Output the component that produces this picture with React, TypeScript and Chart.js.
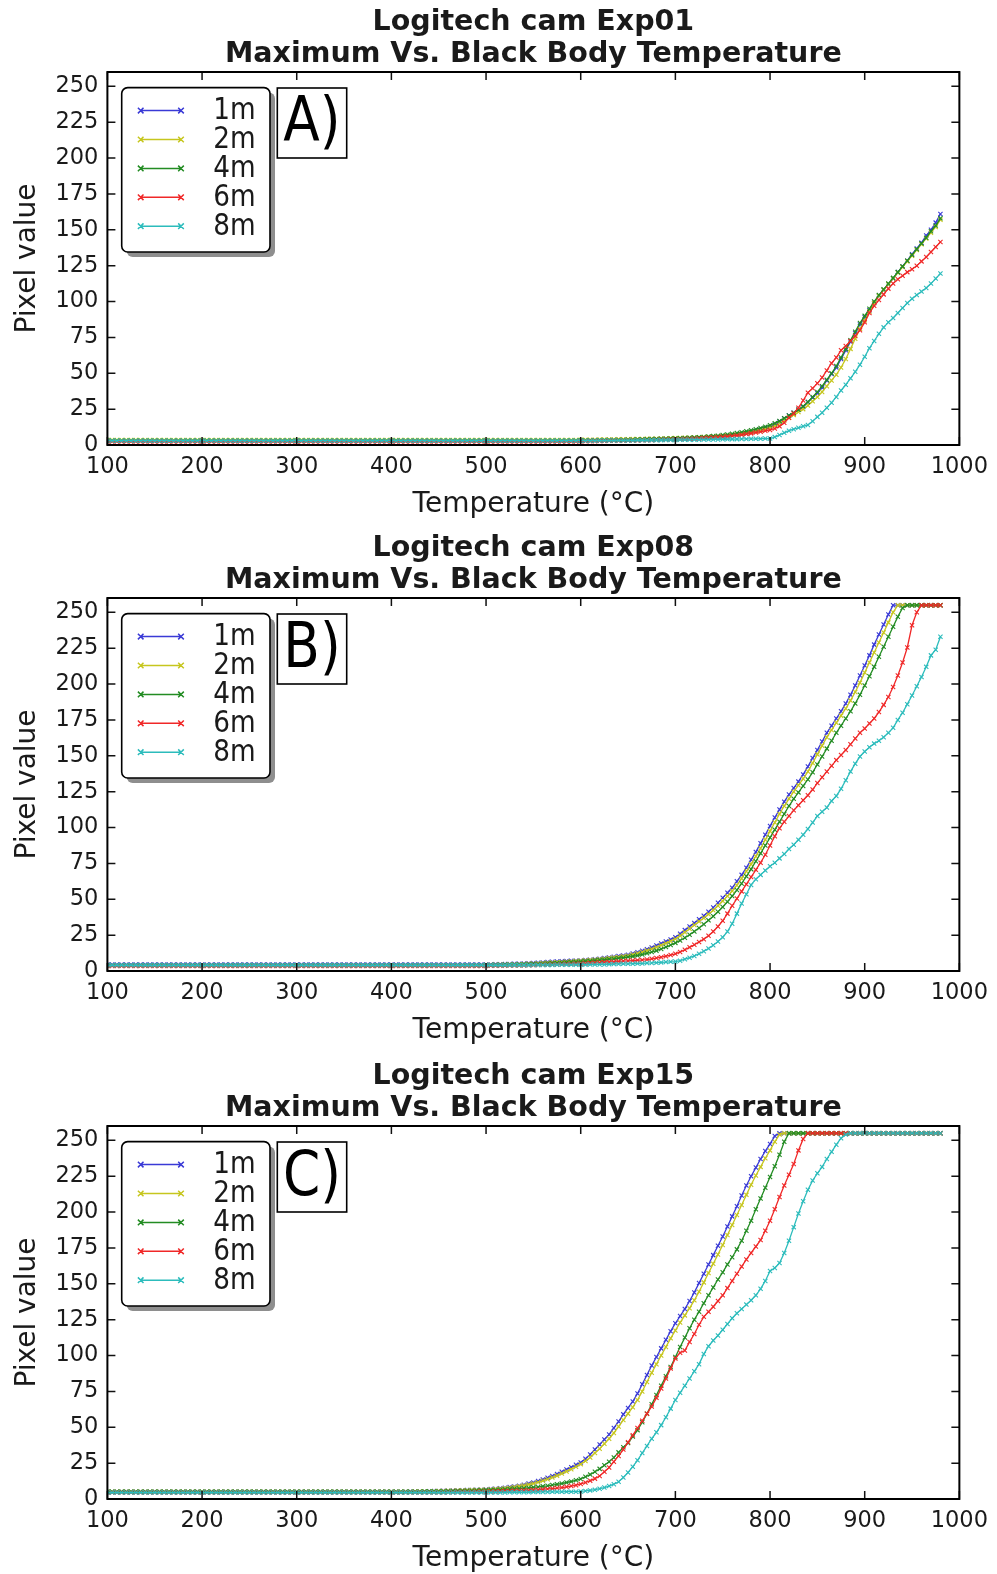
import React, { useEffect, useRef } from 'react';
import { Chart, registerables } from 'chart.js';

Chart.register(...registerables);

// ---------- data ----------
const TEMPS = [
  100,105,110,115,120,125,130,135,140,145,
  150,155,160,165,170,175,180,185,190,195,
  200,205,210,215,220,225,230,235,240,245,
  250,255,260,265,270,275,280,285,290,295,
  300,305,310,315,320,325,330,335,340,345,
  350,355,360,365,370,375,380,385,390,395,
  400,405,410,415,420,425,430,435,440,445,
  450,455,460,465,470,475,480,485,490,495,
  500,505,510,515,520,525,530,535,540,545,
  550,555,560,565,570,575,580,585,590,595,
  600,605,610,615,620,625,630,635,640,645,
  650,655,660,665,670,675,680,685,690,695,
  700,705,710,715,720,725,730,735,740,745,
  750,755,760,765,770,775,780,785,790,795,
  800,805,810,815,820,825,830,835,840,845,
  850,855,860,865,870,875,880,885,890,895,
  900,905,910,915,920,925,930,935,940,945,
  950,955,960,965,970,975,980,
];

const DISTANCES = ['1m', '2m', '4m', '6m', '8m'];
const X_TICKS = [100, 200, 300, 400, 500, 600, 700, 800, 900, 1000];
const Y_TICKS = [0, 25, 50, 75, 100, 125, 150, 175, 200, 225, 250];

const TITLE_A = ['Logitech cam Exp01', 'Maximum Vs. Black Body Temperature'];
const TITLE_B = ['Logitech cam Exp08', 'Maximum Vs. Black Body Temperature'];
const TITLE_C = ['Logitech cam Exp15', 'Maximum Vs. Black Body Temperature'];

// Panel A (Exp01)
const A_1M = [
  3,3,3,3,3,3,3,3,3,3, 3,3,3,3,3,3,3,3,3,3, 3,3,3,3,3,3,3,3,3,3, 3,3,3,3,3,3,3,3,3,3, 3,3,3,3,3,3,3,3,3,3,
  3,3,3,3,3,3,3,3,3,3, 3,3,3,3,3,3,3,3,3,3, 3,3,3,3,3,3,3,3,3,3, 3,3,3,3,3,3,3,3,3,3, 3,3,3,3,3,3,3,3,3,3,
  3.2,3.2,3.3,3.3,3.4,3.4,3.5,3.5,3.6,3.6,
  3.7,3.7,3.8,3.8,3.9,3.9,4,4,4.1,4.2,
  4.3,4.4,4.5,4.6,4.7,4.8,5,5.2,5.4,5.6,
  5.8,6.1,6.5,7,7.5,8,8.8,9.7,10.6,11.6,
  12.6,14.3,16.3,18.5,20.5,22.5,24.5,26.5,30,33,
  36,40,45,49.5,54,60,66,72,78,84,
  89,94,99,104,108,112,116,120.5,124.5,128.5,
  133,137,141,146,150,155,161,
];
const A_2M = [
  3.5,3.5,3.5,3.5,3.5,3.5,3.5,3.5,3.5,3.5, 3.5,3.5,3.5,3.5,3.5,3.5,3.5,3.5,3.5,3.5,
  3.5,3.5,3.5,3.5,3.5,3.5,3.5,3.5,3.5,3.5, 3.5,3.5,3.5,3.5,3.5,3.5,3.5,3.5,3.5,3.5,
  3.5,3.5,3.5,3.5,3.5,3.5,3.5,3.5,3.5,3.5, 3.5,3.5,3.5,3.5,3.5,3.5,3.5,3.5,3.5,3.5,
  3.5,3.5,3.5,3.5,3.5,3.5,3.5,3.5,3.5,3.5, 3.5,3.5,3.5,3.5,3.5,3.5,3.5,3.5,3.5,3.5,
  3.5,3.5,3.5,3.5,3.5,3.5,3.5,3.5,3.5,3.5, 3.5,3.5,3.5,3.5,3.5,3.5,3.5,3.5,3.5,3.5,
  3.6,3.6,3.7,3.7,3.8,3.8,3.9,3.9,4,4,
  4,4.1,4.1,4.2,4.3,4.3,4.4,4.5,4.6,4.7,
  4.8,4.9,5,5.1,5.2,5.4,5.5,5.7,5.9,6.1,
  6.3,6.6,6.9,7.3,7.7,8.2,8.8,9.5,10.3,11.2,
  12.2,13.4,15,17,19,21,23,25,27.5,30.5,
  33.5,37,41,45,49,54,60,67,74,81,
  87,93,99,104,108,112,116,120,124,128,
  132,136,140,144,148,152,157,
];
const A_4M = [
  3,3,3,3,3,3,3,3,3,3, 3,3,3,3,3,3,3,3,3,3, 3,3,3,3,3,3,3,3,3,3, 3,3,3,3,3,3,3,3,3,3, 3,3,3,3,3,3,3,3,3,3,
  3,3,3,3,3,3,3,3,3,3, 3,3,3,3,3,3,3,3,3,3, 3,3,3,3,3,3,3,3,3,3, 3,3,3,3,3,3,3,3,3,3, 3,3,3,3,3,3,3,3,3,3,
  3.1,3.1,3.2,3.2,3.3,3.3,3.4,3.4,3.5,3.5,
  3.6,3.7,3.8,3.9,4,4.1,4.2,4.3,4.4,4.5,
  4.6,4.7,4.8,5,5.2,5.4,5.6,5.9,6.2,6.5,
  6.9,7.3,7.8,8.3,8.9,9.5,10.2,11,11.9,12.8,
  13.8,15.2,16.8,18.6,20.5,22.5,24.5,27,30,33.5,
  37,41,45.5,50,55,61,67,73,79,85,
  90,95,100,104.5,108.5,112.5,116.5,120.5,124.5,128.5,
  132.5,136.5,140.5,144.5,149,153,158,
];
const A_6M = [
  2.5,2.5,2.5,2.5,2.5,2.5,2.5,2.5,2.5,2.5, 2.5,2.5,2.5,2.5,2.5,2.5,2.5,2.5,2.5,2.5,
  2.5,2.5,2.5,2.5,2.5,2.5,2.5,2.5,2.5,2.5, 2.5,2.5,2.5,2.5,2.5,2.5,2.5,2.5,2.5,2.5,
  2.5,2.5,2.5,2.5,2.5,2.5,2.5,2.5,2.5,2.5, 2.5,2.5,2.5,2.5,2.5,2.5,2.5,2.5,2.5,2.5,
  2.5,2.5,2.5,2.5,2.5,2.5,2.5,2.5,2.5,2.5, 2.5,2.5,2.5,2.5,2.5,2.5,2.5,2.5,2.5,2.5,
  2.5,2.5,2.5,2.5,2.5,2.5,2.5,2.5,2.5,2.5, 2.5,2.5,2.5,2.5,2.5,2.5,2.5,2.5,2.5,2.5,
  2.6,2.6,2.7,2.7,2.8,2.8,2.9,2.9,3,3,
  3.1,3.1,3.2,3.3,3.3,3.4,3.5,3.6,3.7,3.8,
  3.9,4,4.1,4.2,4.4,4.6,4.8,5,5.2,5.4,
  5.7,6,6.3,6.7,7.1,7.6,8.1,8.7,9.3,9.9,
  10.5,11.5,13,15.5,19,22,26,31,36.5,39.5,
  43,47,52,57,61,66,69,72.5,76,80,
  85.5,92,97,101,105,109,112.5,115.5,118,120.5,
  122.5,125,128,131,134.5,138,141.5,
];
const A_8M = [
  3,3,3,3,3,3,3,3,3,3, 3,3,3,3,3,3,3,3,3,3, 3,3,3,3,3,3,3,3,3,3, 3,3,3,3,3,3,3,3,3,3, 3,3,3,3,3,3,3,3,3,3,
  3,3,3,3,3,3,3,3,3,3, 3,3,3,3,3,3,3,3,3,3, 3,3,3,3,3,3,3,3,3,3, 3,3,3,3,3,3,3,3,3,3, 3,3,3,3,3,3,3,3,3,3,
  3,3,3,3,3.1,3.1,3.1,3.1,3.2,3.2,
  3.2,3.2,3.3,3.3,3.3,3.4,3.4,3.4,3.5,3.5,
  3.5,3.6,3.6,3.6,3.7,3.7,3.8,3.8,3.9,3.9,
  4,4,4.1,4.1,4.2,4.2,4.3,4.3,4.4,4.5,
  4.5,5.5,7,8.5,10,11,12,13,14,16.5,
  19.6,22.5,26,29.5,33.5,38,42,46.5,51,56,
  61.5,67.5,72.5,77.5,82,85.5,88.5,92,95.5,99,
  102,104.5,107,109.5,112.5,116,119.5,
];

// Panel B (Exp08)
const B_1M = [
  4.5,4.5,4.5,4.5,4.5,4.5,4.5,4.5,4.5,4.5, 4.5,4.5,4.5,4.5,4.5,4.5,4.5,4.5,4.5,4.5,
  4.5,4.5,4.5,4.5,4.5,4.5,4.5,4.5,4.5,4.5, 4.5,4.5,4.5,4.5,4.5,4.5,4.5,4.5,4.5,4.5,
  4.5,4.5,4.5,4.5,4.5,4.5,4.5,4.5,4.5,4.5, 4.5,4.5,4.5,4.5,4.5,4.5,4.5,4.5,4.5,4.5,
  4.5,4.5,4.5,4.5,4.5,4.5,4.5,4.5,4.5,4.5, 4.5,4.5,4.5,4.5,4.5,4.5,4.5,4.5,4.5,4.5,
  4.6,4.6,4.7,4.7,4.8,4.9,5,5.1,5.2,5.4,
  5.6,5.8,6,6.2,6.4,6.6,6.8,7,7.1,7.2,
  7.3,7.6,7.9,8.2,8.6,9,9.4,9.9,10.4,10.8,
  11.3,12.2,13.1,14.1,15.2,16.4,17.8,19.2,20.6,22,
  23.5,26,28.5,31,33.5,36,38.5,41.3,44.2,47.5,
  51,54.5,58,62.5,67,72,77.5,83,89,95,
  101,107,112.5,118,123,127.5,132,137,142.5,148.5,
  154,160,166,171,176,181,186.5,192.5,199,206,
  213,220,227.5,234.5,241.5,248.5,255,255,255,255,
  255,255,255,255,255,255,255,
];
const B_2M = [
  4,4,4,4,4,4,4,4,4,4, 4,4,4,4,4,4,4,4,4,4, 4,4,4,4,4,4,4,4,4,4, 4,4,4,4,4,4,4,4,4,4,
  4,4,4,4,4,4,4,4,4,4, 4,4,4,4,4,4,4,4,4,4, 4,4,4,4,4,4,4,4,4,4, 4,4,4,4,4,4,4,4,4,4,
  4.2,4.2,4.3,4.3,4.4,4.5,4.6,4.7,4.8,5,
  5.1,5.3,5.5,5.7,5.9,6.1,6.3,6.5,6.7,6.9,
  7.1,7.3,7.6,7.9,8.2,8.6,9,9.4,9.8,10.2,
  10.7,11.5,12.3,13.2,14.2,15.3,16.5,17.9,19.3,20.8,
  22.3,24.5,27,29.5,32,34.5,37,39.6,42.4,45.5,
  48.8,52.2,55.8,59.8,64.5,69.5,74.5,80,85.5,91.5,
  97.5,103.5,109.5,115,120,125,129.5,134,139,145,
  151,157,163,168,173,178,183,188.5,194.5,201,
  208,215,222,229,236,243,250,255,255,255,
  255,255,255,255,255,255,255,
];
const B_4M = [
  4,4,4,4,4,4,4,4,4,4, 4,4,4,4,4,4,4,4,4,4, 4,4,4,4,4,4,4,4,4,4, 4,4,4,4,4,4,4,4,4,4,
  4,4,4,4,4,4,4,4,4,4, 4,4,4,4,4,4,4,4,4,4, 4,4,4,4,4,4,4,4,4,4, 4,4,4,4,4,4,4,4,4,4,
  4.1,4.1,4.2,4.2,4.3,4.3,4.4,4.5,4.6,4.7,
  4.8,4.9,5,5.2,5.4,5.6,5.8,6,6.2,6.4,
  6.6,6.8,7,7.3,7.6,7.9,8.2,8.5,8.9,9.3,
  9.7,10.2,10.8,11.5,12.3,13.2,14.2,15.4,16.7,18.1,
  19.6,21.3,23.2,25.3,27.5,30,32.6,35.3,38.2,41.3,
  44.6,48.3,52.2,56.4,61,66,71,76.5,82,87.5,
  93,98.5,104,109.5,115,120,124.5,129,133.5,138.5,
  144,149.5,155,160.5,166,171,176,181,186.5,192.5,
  199,205.5,212,219,226,233,240,247,253,255,
  255,255,255,255,255,255,255,
];
const B_6M = [
  3.5,3.5,3.5,3.5,3.5,3.5,3.5,3.5,3.5,3.5, 3.5,3.5,3.5,3.5,3.5,3.5,3.5,3.5,3.5,3.5,
  3.5,3.5,3.5,3.5,3.5,3.5,3.5,3.5,3.5,3.5, 3.5,3.5,3.5,3.5,3.5,3.5,3.5,3.5,3.5,3.5,
  3.5,3.5,3.5,3.5,3.5,3.5,3.5,3.5,3.5,3.5, 3.5,3.5,3.5,3.5,3.5,3.5,3.5,3.5,3.5,3.5,
  3.5,3.5,3.5,3.5,3.5,3.5,3.5,3.5,3.5,3.5, 3.5,3.5,3.5,3.5,3.5,3.5,3.5,3.5,3.5,3.5,
  3.5,3.6,3.6,3.7,3.7,3.8,3.8,3.9,3.9,4,
  4.1,4.2,4.3,4.4,4.5,4.6,4.7,4.8,4.9,5,
  5.1,5.3,5.5,5.7,5.9,6.1,6.3,6.5,6.7,6.9,
  7.1,7.3,7.5,7.7,8,8.5,9,9.6,10.3,11.1,
  12,13.3,14.8,16.5,18.3,20.2,22.2,24.5,27.5,31,
  35,40,45.5,50.5,55.5,60.5,65.5,70.5,75.5,81,
  87.5,94,99.5,104,108,112,115.5,119,122.5,126.5,
  131,135,139,143,147,150.5,154,158,162,166,
  169,172.5,176,180.5,185.5,191,198,206,215,225.5,
  241,250,255,255,255,255,255,
];
const B_8M = [
  4,4,4,4,4,4,4,4,4,4, 4,4,4,4,4,4,4,4,4,4, 4,4,4,4,4,4,4,4,4,4, 4,4,4,4,4,4,4,4,4,4,
  4,4,4,4,4,4,4,4,4,4, 4,4,4,4,4,4,4,4,4,4, 4,4,4,4,4,4,4,4,4,4, 4,4,4,4,4,4,4,4,4,4,
  4,4,4,4,4,4.1,4.1,4.1,4.1,4.1,
  4.2,4.2,4.2,4.2,4.2,4.3,4.3,4.3,4.3,4.3,
  4.4,4.4,4.5,4.5,4.6,4.6,4.7,4.8,4.9,5,
  5,5.1,5.2,5.3,5.5,5.6,5.8,6,6.2,6.4,
  6.6,7.2,8.2,9.3,10.5,12,13.8,15.7,18,20.6,
  23.5,27.5,33,40,47,53.5,60,64,67,70,
  73,75.5,78.5,81.5,85,88,91.5,95,99,103.5,
  108,111,114,118.5,122,127,133,139,144.5,149.5,
  153,156,158.5,160.5,163,166,169.5,175,180,186,
  192,198.5,205,212,220,224,233,
];

// Panel C (Exp15)
const C_1M = [
  5,5,5,5,5,5,5,5,5,5, 5,5,5,5,5,5,5,5,5,5, 5,5,5,5,5,5,5,5,5,5,
  5,5,5,5,5,5,5,5,5,5, 5,5,5,5,5,5,5,5,5,5, 5,5,5,5,5,5,5,5,5,5,
  5,5,5.1,5.1,5.2,5.2,5.3,5.3,5.4,5.5,
  5.6,5.7,5.8,5.9,6,6.1,6.2,6.3,6.4,6.5,
  6.7,6.9,7.2,7.5,7.9,8.3,8.7,9.3,10,10.8,
  11.5,12.5,13.6,14.8,16.1,17.5,19,20.6,22.2,23.8,
  25.5,28,31,34.5,38,41.5,45,49.5,54,59,
  63.5,68,73.5,80,86.5,93,99,105,111,117,
  122.5,127.5,132.5,138,144,150.5,157,163.5,170,176.5,
  183,190,197,204,211.5,218.5,225,231,237,242.5,
  247.5,253,255,255,255,255,255,255,255,255,
  255,255,255,255,255,255,255,255,255,255,
  255,255,255,255,255,255,255,255,255,255,
  255,255,255,255,255,255,255,
];
const C_2M = [
  5,5,5,5,5,5,5,5,5,5, 5,5,5,5,5,5,5,5,5,5, 5,5,5,5,5,5,5,5,5,5,
  5,5,5,5,5,5,5,5,5,5, 5,5,5,5,5,5,5,5,5,5, 5,5,5,5,5,5,5,5,5,5,
  5,5,5,5.1,5.1,5.2,5.2,5.3,5.3,5.4,
  5.5,5.6,5.7,5.8,5.9,6,6.1,6.2,6.3,6.4,
  6.5,6.7,6.9,7.2,7.5,7.9,8.3,8.8,9.4,10.1,
  10.8,11.7,12.7,13.8,15,16.3,17.7,19.2,20.8,22.5,
  24.3,26.5,29,32,35,38.5,42,46,50.5,55,
  59.5,64,69,75,81.5,88,94,100,106,112,
  117.5,123,128,133,138.5,144.5,151,157.5,164,170.5,
  177,184,191,198,205,212,219,225.5,231.5,237.5,
  243,249,254,255,255,255,255,255,255,255,
  255,255,255,255,255,255,255,255,255,255,
  255,255,255,255,255,255,255,255,255,255,
  255,255,255,255,255,255,255,
];
const C_4M = [
  5,5,5,5,5,5,5,5,5,5, 5,5,5,5,5,5,5,5,5,5, 5,5,5,5,5,5,5,5,5,5,
  5,5,5,5,5,5,5,5,5,5, 5,5,5,5,5,5,5,5,5,5, 5,5,5,5,5,5,5,5,5,5,
  5,5,5,5,5.1,5.1,5.1,5.2,5.2,5.2,
  5.3,5.3,5.4,5.4,5.5,5.6,5.7,5.8,5.9,6,
  6.1,6.2,6.3,6.5,6.7,6.9,7.1,7.3,7.5,7.8,
  8.1,8.4,8.8,9.2,9.7,10.2,10.8,11.5,12.2,13,
  14,15.5,17,19,21,23.5,26,29,32.5,36,
  39,43.5,48,53.5,59.5,66,72.5,79,85.5,92,
  99,106,112.5,119,125,130.5,136.5,142,147.5,153,
  158,163.5,168.5,174,180,187,194,202,209.5,217,
  224.5,232,240,249,255,255,255,255,255,255,
  255,255,255,255,255,255,255,255,255,255,
  255,255,255,255,255,255,255,255,255,255,
  255,255,255,255,255,255,255,
];
const C_6M = [
  4.5,4.5,4.5,4.5,4.5,4.5,4.5,4.5,4.5,4.5, 4.5,4.5,4.5,4.5,4.5,4.5,4.5,4.5,4.5,4.5,
  4.5,4.5,4.5,4.5,4.5,4.5,4.5,4.5,4.5,4.5, 4.5,4.5,4.5,4.5,4.5,4.5,4.5,4.5,4.5,4.5,
  4.5,4.5,4.5,4.5,4.5,4.5,4.5,4.5,4.5,4.5, 4.5,4.5,4.5,4.5,4.5,4.5,4.5,4.5,4.5,4.5,
  4.5,4.5,4.5,4.5,4.5,4.5,4.5,4.5,4.5,4.5,
  4.6,4.6,4.7,4.7,4.8,4.8,4.9,4.9,5,5,
  5.1,5.2,5.3,5.4,5.5,5.6,5.7,5.8,5.9,6,
  6.2,6.4,6.7,7,7.3,7.6,8,8.5,9,9.6,
  10.5,11.5,12.8,14.2,16,19,22,26,30,34.5,
  39.5,44.5,49.5,54.5,59.5,64.5,70.5,77,84,91,
  98,102,103.5,109.5,115,121.5,127,130.5,134,138,
  142,147,152,157,162,167,171.5,176,180.5,187,
  194,202,210.5,218.5,226,233.5,243,251,255,255,
  255,255,255,255,255,255,255,255,255,255,
  255,255,255,255,255,255,255,255,255,255,
  255,255,255,255,255,255,255,
];
const C_8M = [
  4.5,4.5,4.5,4.5,4.5,4.5,4.5,4.5,4.5,4.5, 4.5,4.5,4.5,4.5,4.5,4.5,4.5,4.5,4.5,4.5,
  4.5,4.5,4.5,4.5,4.5,4.5,4.5,4.5,4.5,4.5, 4.5,4.5,4.5,4.5,4.5,4.5,4.5,4.5,4.5,4.5,
  4.5,4.5,4.5,4.5,4.5,4.5,4.5,4.5,4.5,4.5, 4.5,4.5,4.5,4.5,4.5,4.5,4.5,4.5,4.5,4.5,
  4.5,4.5,4.5,4.5,4.5,4.5,4.5,4.5,4.5,4.5,
  4.5,4.5,4.5,4.5,4.5,4.5,4.5,4.5,4.5,4.5,
  4.6,4.6,4.6,4.6,4.6,4.7,4.7,4.7,4.7,4.7,
  4.8,4.8,4.9,4.9,5,5,5,5.1,5.1,5.1,
  5.3,5.6,6,6.5,7.2,8,9,10.3,12,15,
  18.5,22.5,27,32,37,42,46.5,51.5,57,63,
  69,74,79,84,89,94,101,106.5,110.5,114,
  118,122,126,129.5,132.5,135.5,138.5,142,146.5,152,
  159,161,164.5,171.5,180,189.5,199,207.5,215.5,222,
  227,231.5,237,242,247,251.5,254,255,255,255,
  255,255,255,255,255,255,255,255,255,255,
  255,255,255,255,255,255,255,
];

// ---------- styling ----------
const COLORS = ['#3a3ad6', '#c6c61e', '#238c23', '#f02828', '#2cbcbc'];
const FONT = 'DejaVu Sans';
const TEXT = '#1a1a1a';

function roundRectPath(ctx: CanvasRenderingContext2D, x: number, y: number, w: number, h: number, r: number) {
  ctx.beginPath();
  ctx.moveTo(x + r, y);
  ctx.lineTo(x + w - r, y);
  ctx.arcTo(x + w, y, x + w, y + r, r);
  ctx.lineTo(x + w, y + h - r);
  ctx.arcTo(x + w, y + h, x + w - r, y + h, r);
  ctx.lineTo(x + r, y + h);
  ctx.arcTo(x, y + h, x, y + h - r, r);
  ctx.lineTo(x, y + r);
  ctx.arcTo(x, y, x + r, y, r);
  ctx.closePath();
}

function drawX(ctx: CanvasRenderingContext2D, cx: number, cy: number, r: number) {
  ctx.moveTo(cx - r, cy - r);
  ctx.lineTo(cx + r, cy + r);
  ctx.moveTo(cx - r, cy + r);
  ctx.lineTo(cx + r, cy - r);
}

const framePlugin = {
  id: 'mplFrame',
  afterDraw(chart: any, _args: any, opts: any) {
    const { ctx, chartArea: ca, scales } = chart;
    const xs = scales.x;
    const ys = scales.y;
    ctx.save();
    // inside ticks
    ctx.strokeStyle = '#111';
    ctx.lineWidth = 1.5;
    ctx.beginPath();
    X_TICKS.forEach((v) => {
      const px = xs.getPixelForValue(v);
      ctx.moveTo(px, ca.bottom);
      ctx.lineTo(px, ca.bottom - 8);
      ctx.moveTo(px, ca.top);
      ctx.lineTo(px, ca.top + 8);
    });
    Y_TICKS.forEach((v) => {
      const py = ys.getPixelForValue(v);
      ctx.moveTo(ca.left, py);
      ctx.lineTo(ca.left + 8, py);
      ctx.moveTo(ca.right, py);
      ctx.lineTo(ca.right - 8, py);
    });
    ctx.stroke();
    // frame
    ctx.lineWidth = 2;
    ctx.strokeStyle = '#000';
    ctx.strokeRect(ca.left, ca.top, ca.right - ca.left, ca.bottom - ca.top);

    // legend box
    const lx = ca.left + 14.3;
    const ly = ca.top + 15.6;
    const lw = 148.3;
    const lh = 164.4;
    ctx.fillStyle = '#8e8e8e';
    roundRectPath(ctx, lx + 5, ly + 5, lw, lh, 6);
    ctx.fill();
    ctx.fillStyle = '#ffffff';
    roundRectPath(ctx, lx, ly, lw, lh, 6);
    ctx.fill();
    ctx.lineWidth = 1.6;
    ctx.strokeStyle = '#000';
    ctx.stroke();
    DISTANCES.forEach((d, i) => {
      const ry = ly + 23 + 28.9 * i;
      ctx.strokeStyle = COLORS[i];
      ctx.lineWidth = 1.5;
      ctx.beginPath();
      ctx.moveTo(lx + 19, ry);
      ctx.lineTo(lx + 59.3, ry);
      drawX(ctx, lx + 19, ry, 2.8);
      drawX(ctx, lx + 59.3, ry, 2.8);
      ctx.stroke();
      ctx.save();
      ctx.translate(lx + 91.5, ry + 1);
      ctx.scale(0.94, 1.06);
      ctx.fillStyle = TEXT;
      ctx.font = `28px "${FONT}"`;
      ctx.textAlign = 'left';
      ctx.textBaseline = 'middle';
      ctx.fillText(d, 0, 0);
      ctx.restore();
    });

    // panel tag
    const tx = ca.left + 169.9;
    const ty = ca.top + 16;
    const tw = 69.4;
    const th = 70;
    ctx.fillStyle = '#fff';
    ctx.fillRect(tx, ty, tw, th);
    ctx.lineWidth = 1.6;
    ctx.strokeStyle = '#000';
    ctx.strokeRect(tx, ty, tw, th);
    ctx.translate(tx + tw / 2, ty + th / 2 + 2);
    ctx.scale(0.86, 1);
    ctx.fillStyle = '#000';
    ctx.font = `62px "${FONT}"`;
    ctx.textAlign = 'center';
    ctx.textBaseline = 'middle';
    ctx.fillText(opts.tag, 0, 0);
    ctx.restore();
  },
};

type PanelProps = {
  top: number;
  height: number;
  title: string[];
  tag: string;
  series: number[][];
};

function Panel({ top, height, title, tag, series }: PanelProps) {
  const ref = useRef<HTMLCanvasElement | null>(null);
  useEffect(() => {
    if (!ref.current) return;
    const xScaleH = 77;
    const padBottom = height - xScaleH - 445;
    const chart = new Chart(ref.current, {
      type: 'line',
      data: {
        datasets: series.map((vals, i) => ({
          label: DISTANCES[i],
          data: TEMPS.map((t, k) => ({ x: t, y: vals[k] })),
          borderColor: COLORS[i],
          backgroundColor: COLORS[i],
          borderWidth: 1.3,
          pointStyle: 'crossRot',
          pointRadius: 3,
          pointBorderWidth: 1.1,
          pointBorderColor: COLORS[i],
          fill: false,
          tension: 0,
          order: 5 - i,
        })),
      },
      options: {
        animation: false,
        responsive: false,
        devicePixelRatio: 1,
        layout: { padding: { top: 0, left: 0, right: 34.1, bottom: padBottom } },
        plugins: {
          legend: { display: false },
          tooltip: { enabled: false },
          title: {
            display: true,
            text: title,
            fullSize: false,
            color: TEXT,
            font: { family: FONT, size: 28.5, weight: 'bold', lineHeight: 32 / 28.5 },
            padding: { top: 7, bottom: 1 },
          },
          mplFrame: { tag },
        } as any,
        scales: {
          x: {
            type: 'linear',
            min: 100,
            max: 1000,
            afterBuildTicks: (scale: any) => {
              scale.ticks = X_TICKS.map((v) => ({ value: v }));
            },
            afterFit: (scale: any) => {
              scale.height = xScaleH;
            },
            grid: { display: false, drawTicks: false },
            border: { display: false },
            ticks: {
              autoSkip: false,
              maxRotation: 0,
              padding: 9,
              color: TEXT,
              font: { family: FONT, size: 22.5 },
              callback: (v: any) => String(v),
            },
            title: {
              display: true,
              text: 'Temperature (°C)',
              color: TEXT,
              font: { family: FONT, size: 28 },
              padding: { top: 0, bottom: 0 },
            },
          },
          y: {
            type: 'linear',
            min: 0,
            max: 260,
            afterBuildTicks: (scale: any) => {
              scale.ticks = Y_TICKS.map((v) => ({ value: v }));
            },
            afterFit: (scale: any) => {
              scale.width = 107.4;
            },
            grid: { display: false, drawTicks: false },
            border: { display: false },
            ticks: {
              autoSkip: false,
              padding: 9,
              color: TEXT,
              font: { family: FONT, size: 22.5 },
              callback: (v: any) => String(v),
            },
            title: {
              display: true,
              text: 'Pixel value',
              color: TEXT,
              font: { family: FONT, size: 28 },
              padding: { top: 11, bottom: 0 },
            },
          },
        },
      } as any,
      plugins: [framePlugin],
    });
    return () => chart.destroy();
  }, [top, height, title, tag, series]);
  return (
    <canvas
      ref={ref}
      width={997}
      height={height}
      style={{ position: 'absolute', left: 0, top, width: 997, height, display: 'block' }}
    />
  );
}

const PANEL_A = [A_1M, A_2M, A_4M, A_6M, A_8M];
const PANEL_B = [B_1M, B_2M, B_4M, B_6M, B_8M];
const PANEL_C = [C_1M, C_2M, C_4M, C_6M, C_8M];

export default function App() {
  return (
    <div
      style={{
        position: 'absolute',
        left: 0,
        top: 0,
        width: 997,
        height: 1574,
        overflow: 'hidden',
        background: '#fff',
      }}
    >
      <Panel top={0} height={526} title={TITLE_A} tag="A)" series={PANEL_A} />
      <Panel top={526} height={526} title={TITLE_B} tag="B)" series={PANEL_B} />
      <Panel top={1054} height={520} title={TITLE_C} tag="C)" series={PANEL_C} />
    </div>
  );
}
